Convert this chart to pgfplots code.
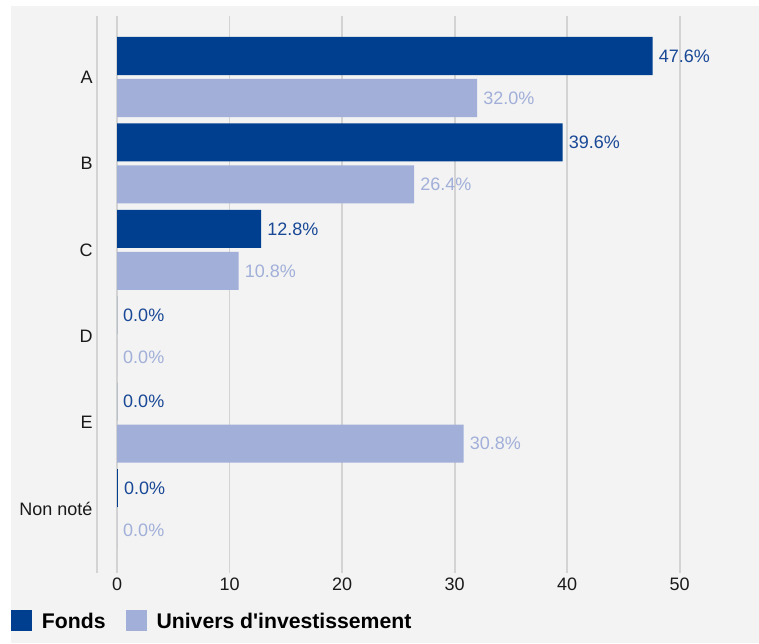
\documentclass[border=0pt]{standalone}
\usepackage{fontspec}
\setmainfont{Liberation Sans}
\usepackage{pgfplots}
\usepackage{pgfplotstable}
\pgfplotsset{compat=1.18}
\definecolor{panel}{HTML}{F3F3F3}
\definecolor{gridc}{HTML}{D3D3D3}
\definecolor{fonds}{HTML}{003E8F}
\definecolor{fondslbl}{HTML}{184896}
\definecolor{univ}{HTML}{A1AFD9}

% c = category index (0 = A ... 5 = Non note), v = value, l = label
\pgfplotstableread{
c v l
0 47.6 47.6
1 39.6 39.6
2 12.8 12.8
3 0 0.0
4 0 0.0
5 0.08 0.0
}\fondsdata
\pgfplotstableread{
c v l
0 32.0 32.0
1 26.4 26.4
2 10.8 10.8
3 0 0.0
4 30.8 30.8
5 0 0.0
}\univdata

\begin{document}
\begin{tikzpicture}
\fill[white] (0,0) rectangle (759pt,643pt);
\fill[panel] (11pt,0) rectangle (759pt,637pt);
\begin{axis}[
    at={(97pt,70pt)}, anchor=south west,
    scale only axis, width=639pt, height=557pt,
    xmin=-1.78, xmax=55,
    ymin=-0.706, ymax=5.74, y dir=reverse,
    xbar, bar width=0.44,
    axis line style={draw=none},
    tick style={draw=none},
    xtick={0,10,...,50},
    extra x ticks={-1.78}, extra x tick labels={},
    extra x tick style={grid=major},
    xmajorgrids, grid style={gridc, line width=1.8pt},
    ytick={0,...,5},
    yticklabels={A,B,C,D,E,Non noté},
    font=\fontsize{18}{21}\selectfont,
    /pgf/number format/assume math mode=true,
    xticklabel style={anchor=north, inner sep=0pt, yshift=-5pt, text=black!90},
    yticklabel style={anchor=east, inner sep=0pt, xshift=0pt, text=black!90},
    point meta=explicit symbolic,
    nodes near coords={\pgfplotspointmeta\%},
    nodes near coords style={anchor=west, inner sep=0pt, xshift=6pt},
    legend columns=2,
    legend image code/.code={\fill[#1] (0pt,-9pt) rectangle (21pt,12pt);},
    legend style={at={(-0.1346,-0.104)}, anchor=south west, draw=none, fill=none,
        inner sep=0pt, outer sep=0pt,
        nodes={inner sep=0pt},
        font=\fontsize{21.2}{24}\selectfont\bfseries,
        /tikz/every odd column/.append style={column sep=10pt},
        /tikz/every even column/.append style={column sep=20pt}},
]
\addplot[fill=fonds, draw=none, bar shift=-0.243,
    nodes near coords style={text=fondslbl}]
    table[x=v, y=c, meta=l] {\fondsdata};
\addplot[fill=univ, draw=none, bar shift=0.243,
    nodes near coords style={text=univ}]
    table[x=v, y=c, meta=l] {\univdata};
\legend{Fonds, Univers d\textquotesingle investissement}
\end{axis}
\end{tikzpicture}
\end{document}
